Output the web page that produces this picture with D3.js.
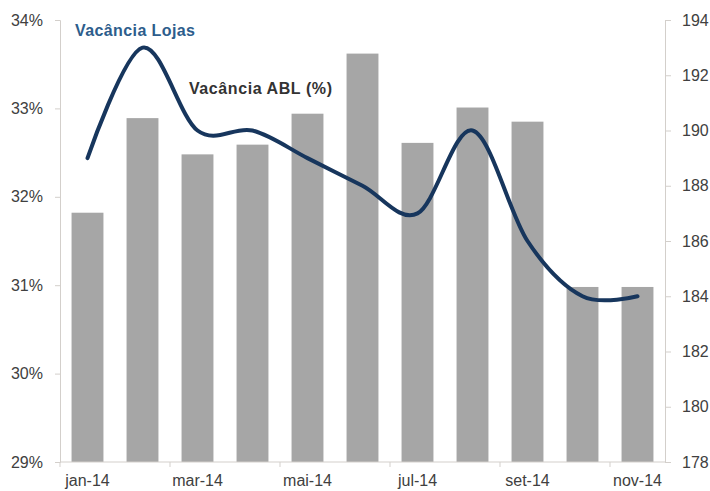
<!DOCTYPE html>
<html>
<head>
<meta charset="utf-8">
<script src="https://cdn.jsdelivr.net/npm/d3@7"></script>
<style>
  html, body { margin: 0; padding: 0; background: #fff; }
  svg { display: block; font-family: "Liberation Sans", Arial, sans-serif; }
</style>
</head>
<body>
<svg id="chart" width="710" height="491"></svg>
<script>
const months = ["jan-14","fev-14","mar-14","abr-14","mai-14","jun-14","jul-14","ago-14","set-14","out-14","nov-14"];
const monthLabels = ["jan-14","mar-14","mai-14","jul-14","set-14","nov-14"];
const vacanciaABL = [31.82, 32.89, 32.48, 32.59, 32.94, 33.62, 32.61, 33.01, 32.85, 30.98, 30.98];
const vacanciaLojas = [189, 193, 190, 190, 189, 188, 187, 190, 186, 184, 184];
const leftTicks = [29, 30, 31, 32, 33, 34];
const rightTicks = [178, 180, 182, 184, 186, 188, 190, 192, 194];

const svg = d3.select("#chart");
const m = {left: 60, right: 665, top: 20, bottom: 462};
const axisColor = "#d3cfcb";
const textColor = "#404040";

const x = d3.scaleBand().domain(months).range([m.left, m.right]).paddingInner(0.42).paddingOuter(0.21);
const yL = d3.scaleLinear().domain([29, 34]).range([m.bottom, m.top]);
const yR = d3.scaleLinear().domain([178, 194]).range([m.bottom, m.top]);
const step = x.step();

// bars
svg.append("g").selectAll("rect").data(months).join("rect")
  .attr("x", d => x(d))
  .attr("width", x.bandwidth())
  .attr("y", (d, i) => yL(vacanciaABL[i]))
  .attr("height", (d, i) => yL(29) - yL(vacanciaABL[i]))
  .attr("fill", "#a6a6a6");

// left axis
const gL = svg.append("g").attr("transform", `translate(${m.left},0)`)
  .call(d3.axisLeft(yL).tickValues(leftTicks).tickFormat(d => d + "%").tickSize(5).tickPadding(12));
// right axis
const gR = svg.append("g").attr("transform", `translate(${m.right},0)`)
  .call(d3.axisRight(yR).tickValues(rightTicks).tickFormat(d3.format("d")).tickSize(6).tickPadding(11));
// bottom axis (labels centered on bands)
const gB = svg.append("g").attr("transform", `translate(0,${m.bottom})`)
  .call(d3.axisBottom(x).tickValues(monthLabels).tickSize(0).tickPadding(13));
gB.select(".domain").remove();
svg.append("line").attr("x1", m.left).attr("x2", m.right).attr("y1", m.bottom).attr("y2", m.bottom)
  .attr("stroke", axisColor);
// bottom tick marks at category boundaries
svg.append("g").selectAll("line").data(monthLabels).join("line")
  .attr("x1", d => x(d) - step * x.paddingInner() / 2)
  .attr("x2", d => x(d) - step * x.paddingInner() / 2)
  .attr("y1", m.bottom).attr("y2", m.bottom + 5)
  .attr("stroke", axisColor);

[gL, gR, gB].forEach(g => {
  g.selectAll(".domain").attr("stroke", axisColor);
  g.selectAll(".tick line").attr("stroke", axisColor);
  g.selectAll(".tick text").attr("fill", textColor).style("font-size", "16px")
    .style("font-family", "'Liberation Sans', Arial, sans-serif");
});

// line
const line = d3.line()
  .x((d, i) => x(months[i]) + x.bandwidth() / 2)
  .y(d => yR(d))
  .curve(d3.curveCatmullRom.alpha(0));
svg.append("path").datum(vacanciaLojas)
  .attr("d", line)
  .attr("fill", "none")
  .attr("stroke", "#17365d")
  .attr("stroke-width", 4)
  .attr("stroke-linecap", "round")
  .attr("stroke-linejoin", "round");

// labels
svg.append("text").attr("x", 75).attr("y", 36)
  .attr("fill", "#2d5d8c").style("font-weight", "bold").style("font-size", "16px")
  .attr("textLength", 120).attr("lengthAdjust", "spacing")
  .text("Vacância Lojas");
svg.append("text").attr("x", 189).attr("y", 94)
  .attr("fill", "#333333").style("font-weight", "bold").style("font-size", "16px")
  .attr("textLength", 143).attr("lengthAdjust", "spacing")
  .text("Vacância ABL (%)");
</script>
</body>
</html>
